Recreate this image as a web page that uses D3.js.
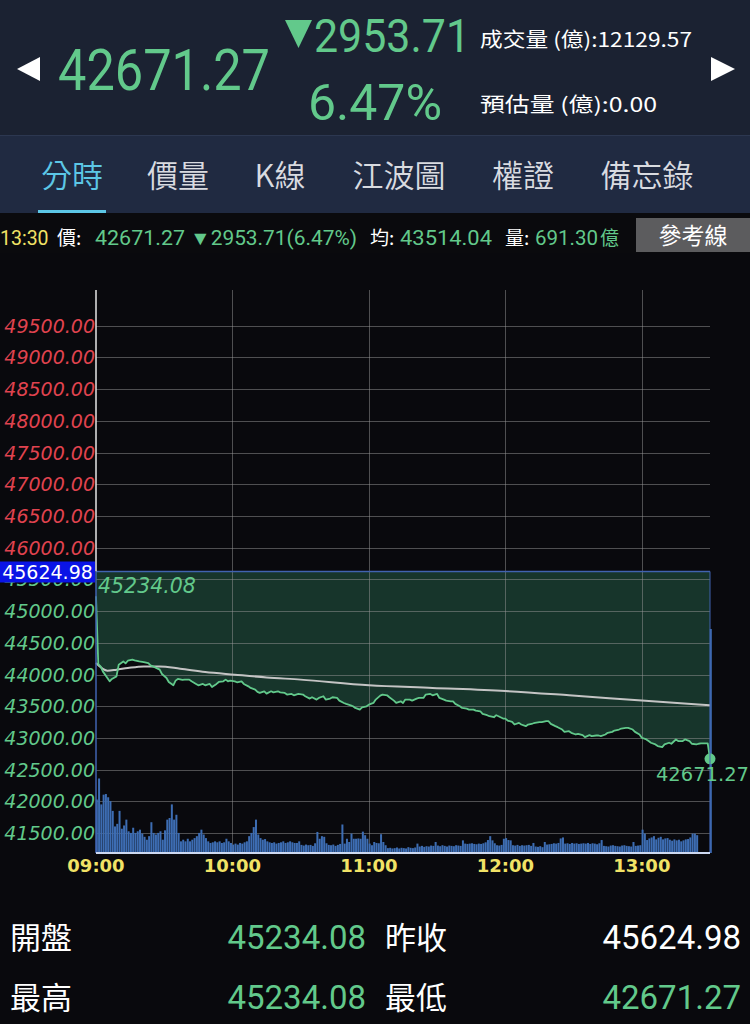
<!DOCTYPE html>
<html><head><meta charset="utf-8">
<script src="https://cdn.jsdelivr.net/npm/d3@7"></script>
<style>body{margin:0;background:#09090d;} svg{display:block}</style>
</head><body><svg id="c" width="750" height="1024"></svg>
<script>
// ---------- data ----------
const prevClose = 45624.98;
const lastPrice = 42671.27;
const changeVal = 2953.71;
const changePct = 6.47;
const avgPrice = 43514.04;
const lastVolume = 691.30;
const totalVolume = 12129.57;
const estVolume = 0.00;
const openPrice = 45234.08, highPrice = 45234.08, lowPrice = 42671.27;
const lastTime = "13:30";
const tabs = ["分時","價量","K線","江波圖","權證","備忘錄"];
const yTicks = [41500,42000,42500,43000,43500,44000,44500,45000,45500,46000,46500,47000,47500,48000,48500,49000,49500];
const xTickMinutes = [0,60,120,180,240];
const xTickLabels = ["09:00","10:00","11:00","12:00","13:00"];
const yDomain = [41186, 50064];
const minuteDomain = [0, 270];

const priceTimes = [0,1,2,3,5,6,7,9,10,12,13,14,16,17,19,21,23,24,26,28,29,31,32,34,35,36,38,39,41,42,44,45,47,48,50,51,53,54,56,57,58,59,61,62,64,65,67,68,70,71,72,74,75,77,78,80,81,83,84,86,87,89,
91,92,94,95,97,98,100,101,103,104,106,107,109,110,112,113,114,116,117,119,120,122,123,125,126,128,129,131,132,134,135,136,138,139,141,142,144,145,147,148,150,151,153,154,156,157,158,160,161,163,164,166,167,169,170,172,173,175,176,177,179,
180,181,183,184,186,187,189,190,192,193,195,196,198,199,200,202,203,205,206,208,209,211,212,214,215,217,218,220,221,222,224,225,227,228,230,231,233,234,236,237,239,240,242,243,244,246,247,249,250,252,253,255,256,258,259,261,262,264,265,266,268,269,270];
const priceValues = [45234.08,44166,44128,44050,43946,43893,43931,43971,44155,44207,44176,44218,44234,44223,44207,44197,44181,44144,44113,44077,44009,43946,43883,43830,43904,43931,43915,43920,43920,43893,43852,43830,43852,43830,43852,43804,43852,43883,43893,43920,43893,43904,43893,43878,43893,43852,43814,43789,43763,43726,43710,43736,43700,43736,43720,43736,43720,43710,43684,43694,43673,43694,
43684,43658,43621,43642,43605,43631,43658,43605,43621,43642,43631,43589,43552,43537,43515,43500,43474,43448,43484,43500,43526,43552,43605,43668,43684,43673,43642,43589,43552,43578,43552,43605,43605,43589,43621,43631,43631,43684,43694,43673,43694,43631,43605,43589,43578,43578,43537,43500,43474,43463,43448,43448,43432,43421,43380,43359,43343,43327,43359,43343,43306,
43306,43275,43254,43212,43238,43212,43186,43212,43228,43238,43249,43249,43264,43264,43222,43186,43170,43133,43096,43107,43081,43055,43065,43044,43013,43044,43029,43039,43039,43029,43055,43081,43096,43117,43133,43149,43160,43160,43133,43096,43055,43003,42977,42951,42925,42898,42872,42857,42898,42925,42909,42976,42951,42951,42977,42951,42909,42898,42909,42914,42914,42914,42671.27];

const avgTimes = [0,5,9,14,21,28,37,48,61,75,90,120,148,180,208,240,270];
const avgValues = [44181,44061,44077,44103,44128,44128,44092,44040,43998,43955,43920,43830,43789,43740,43673,43589,43514.04];

const volumes = [
165,230,150,180,182,172,160,130,82,90,
130,75,85,103,67,62,78,62,67,72,
60,50,41,52,95,62,57,62,67,41,
70,103,108,150,103,118,62,36,41,36,
44,36,41,46,52,62,72,57,46,36,
31,33,36,33,36,31,33,44,36,31,
26,29,26,31,29,33,36,52,62,80,
103,57,46,41,43,36,33,31,33,29,
31,33,36,31,33,36,33,31,31,36,
25,23,26,24,25,22,30,65,44,52,
50,30,25,24,26,22,25,28,88,29,
44,34,60,44,44,45,44,66,55,44,
29,24,34,31,30,58,34,24,15,16,
14,15,17,14,16,15,14,18,16,15,
17,29,20,22,19,21,20,23,22,34,
23,21,24,22,20,23,22,21,24,23,
22,39,29,28,29,30,28,27,29,28,
30,33,40,52,39,30,24,23,25,44,
46,40,39,24,23,25,22,24,23,24,
25,22,31,20,19,21,18,34,26,27,
28,30,29,31,45,48,29,30,28,31,
29,30,28,29,30,29,31,28,30,29,
27,30,40,22,21,20,23,24,22,21,
20,23,24,22,21,20,34,22,23,24,
72,60,40,45,48,52,42,47,50,42,
45,46,41,38,42,39,41,36,39,42,
43,48,60,60,55,0,0,0,0,0,
691.30];

// ---------- styles ----------
const GREEN = "#62c98b", RED = "#e0434f", YELLOW = "#f1e266", CYAN = "#5cc7e6";
const NUM = "Roboto, 'Liberation Sans', sans-serif";
const CJK = "'Noto Sans CJK TC', 'Noto Sans CJK SC', sans-serif";
const DJ = "'DejaVu Sans', sans-serif";

const svg = d3.select("#c");
svg.append("rect").attr("width",750).attr("height",1024).attr("fill","#09090d");

// header
svg.append("rect").attr("x",0).attr("y",0).attr("width",750).attr("height",135).attr("fill","#1b2232");
svg.append("rect").attr("x",0).attr("y",135).attr("width",750).attr("height",78).attr("fill","#202a41");
svg.append("line").attr("x1",0).attr("x2",750).attr("y1",135.5).attr("y2",135.5).attr("stroke","#2c3750");

svg.append("path").attr("d","M17,69 L40,57 L40,81 Z").attr("fill","#ffffff");
svg.append("path").attr("d","M735,69 L711,57 L711,81 Z").attr("fill","#ffffff");

function txt(x,y,s,opt){
  const t = svg.append("text").attr("x",x).attr("y",y).text(s)
    .attr("fill",opt.fill||"#fff").attr("font-family",opt.ff||NUM)
    .attr("font-size",opt.fs||16).attr("text-anchor",opt.anchor||"start");
  if(opt.fw) t.attr("font-weight",opt.fw);
  if(opt.style) t.attr("font-style",opt.style);
  if(opt.len) t.attr("textLength",opt.len).attr("lengthAdjust","spacingAndGlyphs");
  return t;
}
const fmt2 = d3.format(".2f");
txt(58,90,fmt2(lastPrice),{fill:GREEN,fs:58,fw:400,len:212});
svg.append("path").attr("d","M285,20 L312,20 L298.5,48 Z").attr("fill",GREEN);
txt(314,52,fmt2(changeVal),{fill:GREEN,fs:47,fw:400,len:156});
txt(308,120,fmt2(changePct)+"%",{fill:GREEN,fs:50,fw:400,len:134});
txt(480,47,"成交量 (億):"+fmt2(totalVolume),{ff:CJK,fs:20,len:212});
txt(480,112,"預估量 (億):"+fmt2(estVolume),{ff:CJK,fs:20,len:177});

// tabs
const tabX = [72,178,280,399,523,647];
tabs.forEach((t,i)=>{
  txt(tabX[i],187,t,{ff:CJK,fs:31,anchor:"middle",fill:i===0?CYAN:"#d9dbe0",fw:350});
});
svg.append("rect").attr("x",38).attr("y",210).attr("width",68).attr("height",3).attr("fill",CYAN);

// info bar
svg.append("rect").attr("x",0).attr("y",213).attr("width",750).attr("height",40).attr("fill","#0a0a0d");
txt(0,245,lastTime,{fill:YELLOW,fs:19.5});
txt(57,245,"價:",{ff:CJK,fs:19});
txt(95,245,fmt2(lastPrice),{fill:GREEN,fs:19.5,len:90});
txt(190,245,"▼"+fmt2(changeVal)+"("+fmt2(changePct)+"%)",{fill:GREEN,fs:19.5,len:167});
txt(370,245,"均:",{ff:CJK,fs:19});
txt(400,245,fmt2(avgPrice),{fill:GREEN,fs:19.5,len:92});
txt(505,245,"量:",{ff:CJK,fs:19});
txt(535,245,fmt2(lastVolume),{fill:GREEN,fs:19.5,len:63});
txt(600,245,"億",{ff:CJK,fs:19,fill:GREEN});
svg.append("rect").attr("x",636).attr("y",218).attr("width",114).attr("height",34).attr("fill","#5c5c5e");
txt(693,244,"參考線",{ff:CJK,fs:23,anchor:"middle",fill:"#ffffff"});

// ---------- chart ----------
const X0=96, X1=710, YT=290, YB=853;
const x = d3.scaleLinear().domain(minuteDomain).range([X0,X1]);
const y = d3.scaleLinear().domain(yDomain).range([YB,YT]);
const v = d3.scaleLinear().domain([0,d3.max(volumes)]).range([YB,629]);
const pts = priceTimes.map((t,i)=>({t, p:priceValues[i]}));
const avgPts = avgTimes.map((t,i)=>({t, p:avgValues[i]}));

// area between prev close and price
svg.append("path").datum(pts)
  .attr("d", d3.area().x(d=>x(d.t)).y0(y(prevClose)).y1(d=>y(d.p)))
  .attr("fill","#17352b");

// grid
const g = svg.append("g");
g.selectAll(".hg").data(yTicks).join("line")
  .attr("x1",X0).attr("x2",X1).attr("y1",d=>Math.round(y(d))+0.5).attr("y2",d=>Math.round(y(d))+0.5)
  .attr("stroke","rgba(150,150,150,0.5)").attr("stroke-width",1);
g.selectAll(".vg").data(xTickMinutes.slice(1)).join("line")
  .attr("x1",d=>Math.round(x(d))+0.5).attr("x2",d=>Math.round(x(d))+0.5).attr("y1",YT).attr("y2",YB)
  .attr("stroke","rgba(150,150,150,0.5)").attr("stroke-width",1);

// volume bars
svg.append("g").selectAll("rect").data(volumes).join("rect")
  .attr("x",(d,i)=>x(i)-0.2).attr("width",2)
  .attr("y",d=>v(d)).attr("height",d=>YB-v(d))
  .attr("fill","#3d6db3");

// prev close line
svg.append("line").attr("x1",X0).attr("x2",X1).attr("y1",y(prevClose)).attr("y2",y(prevClose))
  .attr("stroke","#4063b0").attr("stroke-width",1.5);

// average line
svg.append("path").datum(avgPts)
  .attr("d", d3.line().x(d=>x(d.t)).y(d=>y(d.p)).curve(d3.curveMonotoneX))
  .attr("fill","none").attr("stroke","#c4c4c4").attr("stroke-width",2);

// price line
svg.append("path").datum(pts)
  .attr("d", d3.line().x(d=>x(d.t)).y(d=>y(d.p)))
  .attr("fill","none").attr("stroke",GREEN).attr("stroke-width",1.8).attr("stroke-linejoin","round");
svg.append("circle").attr("cx",x(270)).attr("cy",y(lastPrice)).attr("r",5.5).attr("fill",GREEN);

// axes lines
svg.append("line").attr("x1",X0).attr("x2",X0).attr("y1",YT).attr("y2",y(prevClose)).attr("stroke","#e6e6e6").attr("stroke-width",1.5);
svg.append("line").attr("x1",X0).attr("x2",X0).attr("y1",y(prevClose)).attr("y2",YB).attr("stroke","#4063b0").attr("stroke-width",1.5);
svg.append("line").attr("x1",X1).attr("x2",X1).attr("y1",y(prevClose)).attr("y2",YB).attr("stroke","#4063b0").attr("stroke-width",1);
svg.append("line").attr("x1",X0).attr("x2",X1).attr("y1",YB).attr("y2",YB).attr("stroke","#cdd8f0").attr("stroke-width",2);

// y tick labels
svg.append("g").selectAll("text").data(yTicks).join("text")
  .attr("x",95).attr("y",d=>y(d)+7).attr("text-anchor","end")
  .attr("font-family",DJ).attr("font-style","oblique").attr("font-size",19)
  .attr("fill",d=>d>prevClose?RED:GREEN).text(d=>fmt2(d));

// prev close box
svg.append("rect").attr("x",0).attr("y",y(prevClose)-10).attr("width",95).attr("height",21).attr("fill","#0a14e6");
txt(47.5,y(prevClose)+7,fmt2(prevClose),{ff:DJ,fs:19,anchor:"middle",fill:"#ffffff"});

// high & last labels
txt(98,y(highPrice)-3,fmt2(highPrice),{ff:DJ,fs:20.5,style:"oblique",fill:GREEN});
txt(749,y(lastPrice)+22,fmt2(lastPrice),{ff:DJ,fs:19.5,anchor:"end",fill:GREEN});

// x tick labels
svg.append("g").selectAll("text").data(xTickMinutes).join("text")
  .attr("x",d=>x(d)).attr("y",872).attr("text-anchor","middle")
  .attr("font-family",DJ).attr("font-weight","bold").attr("font-size",18)
  .attr("fill",YELLOW).text((d,i)=>xTickLabels[i]);

// ---------- bottom table ----------
const rowLabelsL = ["開盤","最高"], rowValsL = [openPrice, highPrice];
const rowLabelsR = ["昨收","最低"], rowValsR = [prevClose, lowPrice];
const rowColorsR = ["#ffffff", GREEN];
[949,1009].forEach((by,i)=>{
  txt(10,by,rowLabelsL[i],{ff:CJK,fs:31});
  txt(366,by,fmt2(rowValsL[i]),{fs:33,anchor:"end",fill:GREEN});
  txt(385,by,rowLabelsR[i],{ff:CJK,fs:31});
  txt(741,by,fmt2(rowValsR[i]),{fs:33,anchor:"end",fill:rowColorsR[i]});
});
</script></body></html>
